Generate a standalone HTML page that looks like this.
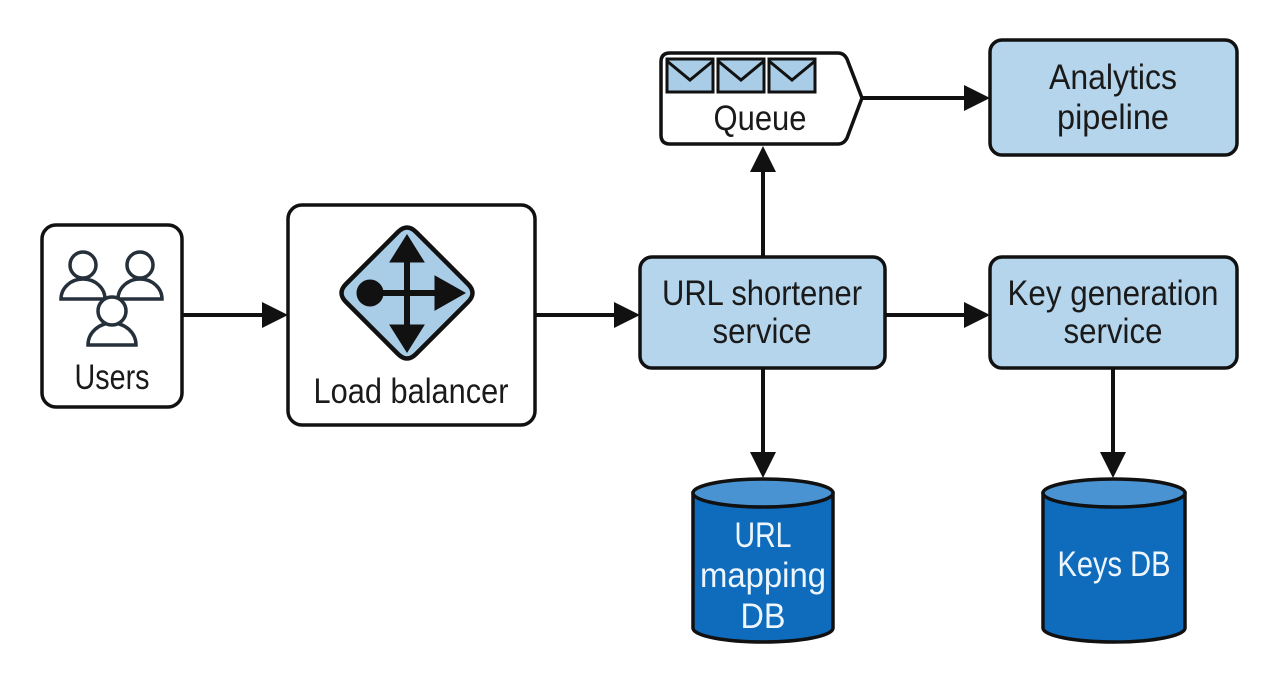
<!DOCTYPE html>
<html><head><meta charset="utf-8"><style>
html,body{margin:0;padding:0;background:#fff;}
svg{display:block}
text{font-family:"Liberation Sans Narrow","Liberation Sans",sans-serif;font-size:35px;fill:#1a1a1a;text-anchor:middle}
</style></head><body>
<svg width="1273" height="680" viewBox="0 0 1273 680" xmlns="http://www.w3.org/2000/svg">
<g stroke="#111" stroke-width="4" fill="none">
<line x1="182" y1="315" x2="262" y2="315"/>
<line x1="535" y1="315" x2="614" y2="315"/>
<line x1="885" y1="315" x2="964" y2="315"/>
<line x1="763" y1="257" x2="763" y2="170"/>
<line x1="862" y1="98" x2="964" y2="98"/>
<line x1="763" y1="368" x2="763" y2="452"/>
<line x1="1113" y1="368" x2="1113" y2="452"/>
</g>
<g fill="#111">
<polygon points="262,302 288,315 262,328"/>
<polygon points="614,302 640,315 614,328"/>
<polygon points="964,302 990,315 964,328"/>
<polygon points="750,172 763,146 776,172"/>
<polygon points="964,85 990,98 964,111"/>
<polygon points="750,452 763,478 776,452"/>
<polygon points="1100,452 1113,478 1126,452"/>
</g>
<!-- Users -->
<rect x="42" y="225" width="140" height="182" rx="14" fill="#fff" stroke="#111" stroke-width="3.5"/>
<g stroke="#25303b" stroke-width="3.5" fill="#fff">
<path d="M61 299 a22 20 0 0 1 44 0 z"/><circle cx="83" cy="265" r="13"/>
<path d="M118 299 a22 20 0 0 1 44 0 z"/><circle cx="140" cy="265" r="13"/>
<path d="M88 345 a24 22 0 0 1 48 0 z"/><circle cx="112" cy="311" r="14"/>
</g>
<text x="112" y="389" textLength="75" lengthAdjust="spacingAndGlyphs">Users</text>
<!-- Load balancer -->
<rect x="288" y="205" width="247" height="220" rx="14" fill="#fff" stroke="#111" stroke-width="3.5"/>
<path d="M398 232 Q407 223 416 232 L468 284 Q477 293 468 302 L416 354 Q407 363 398 354 L346 302 Q337 293 346 284 Z" fill="#a9cde6" stroke="#111" stroke-width="4.5"/>
<g fill="#111" stroke="#111">
<line x1="407" y1="255" x2="407" y2="332" stroke-width="6"/>
<line x1="365" y1="293" x2="440" y2="293" stroke-width="6"/>
<circle cx="370" cy="293" r="13"/>
<polygon points="390,262 407,235 424,262"/>
<polygon points="390,325 407,352 424,325"/>
<polygon points="435,276 465,293 435,310"/>
</g>
<text x="411" y="403" textLength="195" lengthAdjust="spacingAndGlyphs">Load balancer</text>
<!-- URL shortener -->
<rect x="640" y="257" width="245" height="111" rx="12" fill="#b5d5ec" stroke="#111" stroke-width="3.5"/>
<text x="762" y="305" textLength="200" lengthAdjust="spacingAndGlyphs">URL shortener</text>
<text x="762" y="343" textLength="99" lengthAdjust="spacingAndGlyphs">service</text>
<!-- Key gen -->
<rect x="990" y="257" width="247" height="111" rx="12" fill="#b5d5ec" stroke="#111" stroke-width="3.5"/>
<text x="1113" y="305" textLength="211" lengthAdjust="spacingAndGlyphs">Key generation</text>
<text x="1113" y="343" textLength="99" lengthAdjust="spacingAndGlyphs">service</text>
<!-- Analytics -->
<rect x="990" y="40" width="247" height="115" rx="12" fill="#b5d5ec" stroke="#111" stroke-width="3.5"/>
<text x="1113" y="89" textLength="128" lengthAdjust="spacingAndGlyphs">Analytics</text>
<text x="1113" y="129" textLength="112" lengthAdjust="spacingAndGlyphs">pipeline</text>
<!-- Queue -->
<path d="M670 53 L838 53 Q844 53 847 59 L862 98 L847 138 Q844 144 838 144 L670 144 Q661 144 661 135 L661 62 Q661 53 670 53 Z" fill="#fff" stroke="#111" stroke-width="3.5"/>
<g fill="#a9cde6" stroke="#111" stroke-width="3">
<rect x="667" y="59" width="46" height="33"/>
<rect x="718" y="59" width="46" height="33"/>
<rect x="769" y="59" width="46" height="33"/>
</g>
<g fill="none" stroke="#111" stroke-width="3">
<path d="M667 61 L690 80 L713 61"/><path d="M718 61 L741 80 L764 61"/><path d="M769 61 L792 80 L815 61"/>
</g>
<text x="760" y="130" textLength="93" lengthAdjust="spacingAndGlyphs">Queue</text>
<!-- DBs -->
<g stroke="#111" stroke-width="3.5">
<path d="M693 493 L693 628 A70 14 0 0 0 833 628 L833 493 Z" fill="#0f6cbd"/>
<ellipse cx="763" cy="493" rx="70" ry="14" fill="#4a93d3"/>
<path d="M1043 493 L1043 628 A71 14 0 0 0 1185 628 L1185 493 Z" fill="#0f6cbd"/>
<ellipse cx="1114" cy="493" rx="71" ry="14" fill="#4a93d3"/>
</g>
<text x="763" y="547" style="fill:#eef6fd" textLength="57" lengthAdjust="spacingAndGlyphs">URL</text>
<text x="763" y="587" style="fill:#eef6fd" textLength="126" lengthAdjust="spacingAndGlyphs">mapping</text>
<text x="763" y="628" style="fill:#eef6fd" textLength="45" lengthAdjust="spacingAndGlyphs">DB</text>
<text x="1114" y="576" style="fill:#eef6fd" textLength="113" lengthAdjust="spacingAndGlyphs">Keys DB</text>
</svg>
</body></html>
